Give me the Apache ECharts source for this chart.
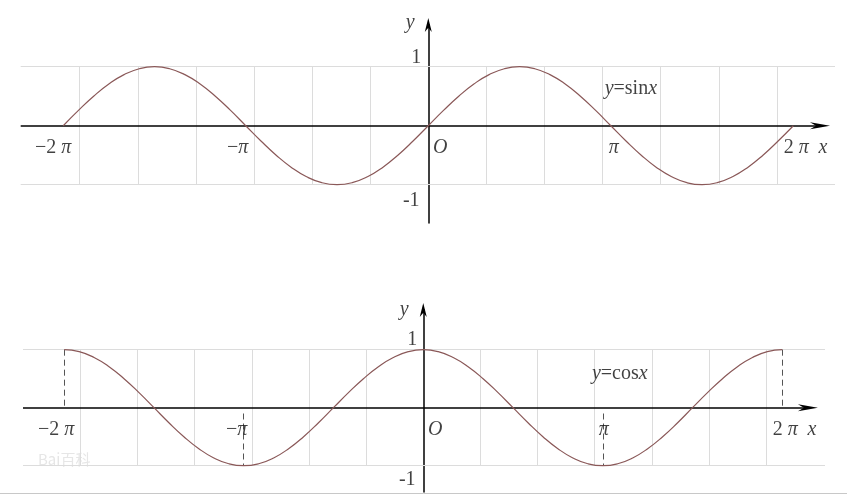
<!DOCTYPE html>
<html>
<head>
<meta charset="utf-8">
<script src="https://cdn.jsdelivr.net/npm/echarts@6/dist/echarts.min.js"></script>
<style>
html,body{margin:0;padding:0;background:#fff;}
#main{width:847px;height:497px;}
</style>
</head>
<body>
<div id="main"></div>
<script>
// ---- data (x in radians, step pi/12) ----
const xs = [-6.283,-6.021,-5.760,-5.498,-5.236,-4.974,-4.712,-4.451,-4.189,-3.927,-3.665,-3.403,
  -3.142,-2.880,-2.618,-2.356,-2.094,-1.833,-1.571,-1.309,-1.047,-0.785,-0.524,-0.262,
  0,0.262,0.524,0.785,1.047,1.309,1.571,1.833,2.094,2.356,2.618,2.880,
  3.142,3.403,3.665,3.927,4.189,4.451,4.712,4.974,5.236,5.498,5.760,6.021,6.283];
const sinValues = [0,0.259,0.5,0.707,0.866,0.966,1,0.966,0.866,0.707,0.5,0.259,
  0,-0.259,-0.5,-0.707,-0.866,-0.966,-1,-0.966,-0.866,-0.707,-0.5,-0.259,
  0,0.259,0.5,0.707,0.866,0.966,1,0.966,0.866,0.707,0.5,0.259,
  0,-0.259,-0.5,-0.707,-0.866,-0.966,-1,-0.966,-0.866,-0.707,-0.5,-0.259,0];
const cosValues = [1,0.966,0.866,0.707,0.5,0.259,0,-0.259,-0.5,-0.707,-0.866,-0.966,
  -1,-0.966,-0.866,-0.707,-0.5,-0.259,0,0.259,0.5,0.707,0.866,0.966,
  1,0.966,0.866,0.707,0.5,0.259,0,-0.259,-0.5,-0.707,-0.866,-0.966,
  -1,-0.966,-0.866,-0.707,-0.5,-0.259,0,0.259,0.5,0.707,0.866,0.966,1];
const gridLinesX = [-6,-5,-4,-3,-2,-1,1,2,3,4,5,6];
const piTickValues = [-6.283,-3.142,3.142,6.283];
const piTickLabels = ['−2 {i|π}','−{i|π}','{i|π}','2 {i|π}'];
const yTickValues = [1,-1];
const yTickLabels = ['1','-1'];
const cosDropLines = [[-6.283,1,0],[-3.142,-0.1,-1],[3.142,-0.1,-1],[6.283,1,0]];

// ---- styling / layout ----
const FONT = '"Liberation Serif","Times New Roman",serif';
const FS = 20;
const CURVE = '#8a5858';
const GRIDC = '#dcdcdc';
const arrowPath = 'path://M5,0 L10,20 L5,14 L0,20 Z';

const panels = [
  { grid:{left:20.7, top:25, width:814.3, height:198}, xr:[-7.015,7.0], xEnd:6.742, yr:[-1.649,1.707],
    values:sinValues, formula:'{i|y}=sin{i|x}', fOff:[20,22],
    tickOff:[[-10,22],[-8,22],[3,22],[3,22]], xOff:[3,22], yOff:[-18,-2], oOff:[12,22],
    yTickOff:[[-12,-9],[-17,16]], drops:[] },
  { grid:{left:23, top:310, width:802, height:182}, xr:[-7.004,7.03], xEnd:6.731, yr:[-1.453,1.684],
    values:cosValues, formula:'{i|y}=cos{i|x}', fOff:[17,24],
    tickOff:[[-8,22],[-7,22],[1,22],[3,22]], xOff:[4,22], yOff:[-19,0], oOff:[12,22],
    yTickOff:[[-11,-10],[-16,14]], drops:cosDropLines }
];

const rich = { i:{fontFamily:FONT, fontStyle:'italic', fontSize:FS, color:'#111'} };
const baseLabel = { show:true, position:'inside', fontFamily:FONT, fontSize:FS, color:'#111', rich:rich };

const grids = [], xAxes = [], yAxes = [], series = [];
panels.forEach((p, gi) => {
  grids.push(p.grid);
  xAxes.push({ type:'value', gridIndex:gi, min:p.xr[0], max:p.xr[1],
    axisLine:{show:false, onZero:true},
    axisTick:{show:false}, axisLabel:{show:false}, splitLine:{show:false} });
  yAxes.push({ type:'value', gridIndex:gi, min:p.yr[0], max:p.yr[1],
    axisLine:{show:true, onZero:true, symbol:['none',arrowPath], symbolSize:[7,20],
      lineStyle:{color:'#000', width:1.5}},
    axisTick:{show:false}, axisLabel:{show:false}, splitLine:{show:false} });

  // grid lines
  const gl = gridLinesX.map(x => [{coord:[x,-1]},{coord:[x,1]}]);
  yTickValues.forEach(y => gl.push([{coord:[p.xr[0],y]},{coord:[p.xr[1],y]}]));
  series.push({ type:'line', xAxisIndex:gi, yAxisIndex:gi, data:[], silent:true, z:1,
    markLine:{ silent:true, symbol:['none','none'], label:{show:false},
      lineStyle:{color:GRIDC, width:1, type:'solid'}, data:gl } });

  // x axis with arrow
  series.push({ type:'line', xAxisIndex:gi, yAxisIndex:gi, data:[], silent:true, z:6,
    markLine:{ silent:true, symbol:['none',arrowPath], symbolSize:[7,20], label:{show:false},
      lineStyle:{color:'#000', width:1.5, type:'solid'}, itemStyle:{color:'#000'},
      data:[[{coord:[p.xr[0],0]},{coord:[p.xEnd,0]}]] } });

  // dashed drop lines
  if (p.drops.length) {
    series.push({ type:'line', xAxisIndex:gi, yAxisIndex:gi, data:[], silent:true, z:2,
      markLine:{ silent:true, symbol:['none','none'], label:{show:false},
        lineStyle:{color:'#555', width:1, type:[6,4]},
        data:p.drops.map(d => [{coord:[d[0],d[1]]},{coord:[d[0],d[2]]}]) } });
  }

  // curve
  series.push({ type:'line', xAxisIndex:gi, yAxisIndex:gi, smooth:true, showSymbol:false, z:5,
    lineStyle:{color:CURVE, width:1.2}, data: xs.map((x,i) => [x, p.values[i]]) });

  // text labels
  const labs = [];
  piTickValues.forEach((v,i) => labs.push({ value:[v,0], label:{formatter:piTickLabels[i], offset:p.tickOff[i]} }));
  yTickValues.forEach((v,i) => labs.push({ value:[0,v], label:{formatter:yTickLabels[i], offset:p.yTickOff[i]} }));
  labs.push({ value:[0,0], label:{formatter:'{i|O}', offset:p.oOff} });
  labs.push({ value:[p.xEnd,0], label:{formatter:'{i|x}', offset:p.xOff} });
  labs.push({ value:[0,p.yr[1]], label:{formatter:'{i|y}', offset:p.yOff} });
  labs.push({ value:[3.142,1], label:{formatter:p.formula, offset:p.fOff} });
  series.push({ type:'scatter', xAxisIndex:gi, yAxisIndex:gi, symbolSize:0, clip:false, silent:true, z:10,
    itemStyle:{color:'transparent'}, label:baseLabel, data:labs });
});

const chart = echarts.init(document.getElementById('main'), null, {renderer:'canvas'});
chart.setOption({
  animation:false,
  backgroundColor:'#fff',
  grid:grids, xAxis:xAxes, yAxis:yAxes, series:series,
  graphic:[
    { type:'line', shape:{x1:0, y1:493.5, x2:847, y2:493.5}, style:{stroke:'#c8c8c8', lineWidth:1}, silent:true },
    { type:'text', left:38, top:452, style:{text:'Bai百科', fill:'#e6e6e6', font:'15px "Noto Sans CJK SC", sans-serif'}, silent:true }
  ]
});
</script>
</body>
</html>
